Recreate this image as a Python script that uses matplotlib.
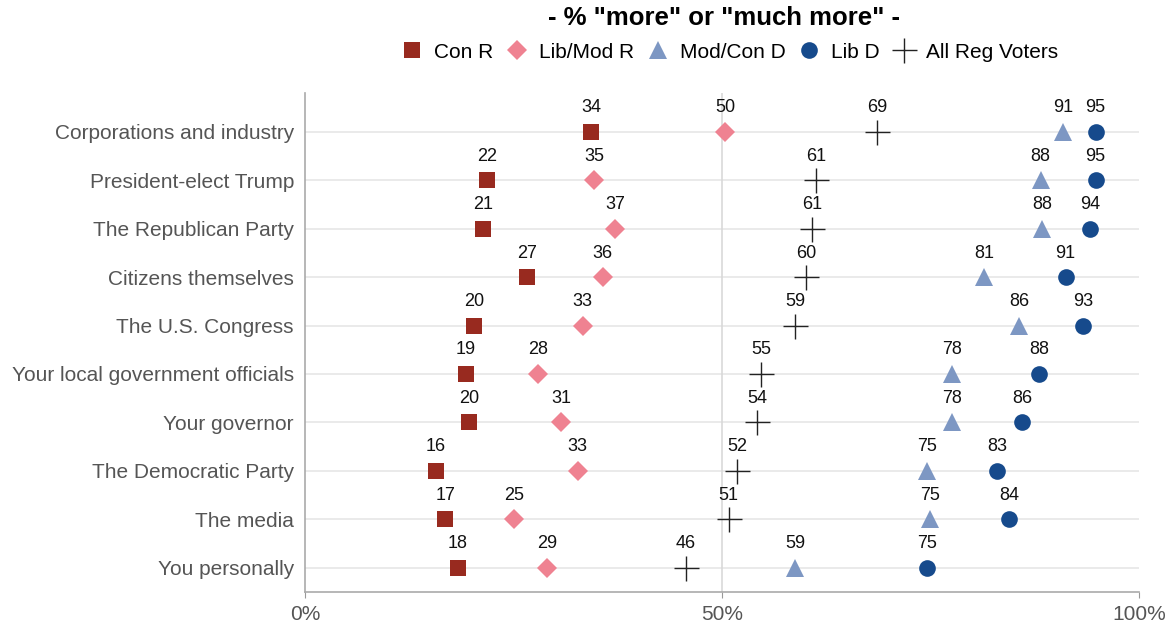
import numpy as np
import matplotlib.pyplot as plt

plt.rcParams['font.family'] = ['Liberation Sans', 'DejaVu Sans']

categories = ["Corporations and industry", "President-elect Trump", "The Republican Party",
              "Citizens themselves", "The U.S. Congress", "Your local government officials",
              "Your governor", "The Democratic Party", "The media", "You personally"]

con_r = [34.3, 21.8, 21.3, 26.6, 20.3, 19.3, 19.7, 15.7, 16.8, 18.3]
libmod_r = [50.4, 34.7, 37.2, 35.7, 33.3, 27.9, 30.7, 32.7, 25.1, 29.0]
modcon_d = [90.9, 88.2, 88.4, 81.4, 85.6, 77.6, 77.6, 74.6, 74.9, 58.8]
lib_d = [94.8, 94.8, 94.1, 91.2, 93.3, 88.0, 86.0, 83.0, 84.4, 74.6]
all_reg = [68.6, 61.3, 60.8, 60.1, 58.8, 54.7, 54.2, 51.8, 50.8, 45.7]

series = [
    ("Con R", con_r, "s", "#982a1f", 11),
    ("Lib/Mod R", libmod_r, "D", "#ef8291", 10),
    ("Mod/Con D", modcon_d, "^", "#7d97c3", 13),
    ("Lib D", lib_d, "o", "#164a8c", 12),
    ("All Reg Voters", all_reg, "+", "#222222", 18),
]

fig = plt.figure(figsize=(11.71, 6.27), dpi=100)
ax = fig.add_axes([305 / 1171, 1 - 592 / 627, (1139 - 305) / 1171, (592 - 93) / 627])

y = np.arange(len(categories))[::-1]

for yy in y:
    ax.axhline(yy, color="#e6e6e6", lw=1.2, zorder=0)
ax.axvline(50, color="#d9d9d9", lw=1.2, zorder=0)

for name, vals, mk, col, ms in series:
    if mk == "+":
        ax.plot(vals, y, ls="none", marker=mk, color=col, ms=ms, mew=1.0, label=name, zorder=3)
    else:
        ax.plot(vals, y, ls="none", marker=mk, color=col, ms=ms, mew=0, label=name, zorder=3)
    for v, yy in zip(vals, y):
        ax.text(v, yy + 0.32, f"{v:.0f}", ha="center", va="bottom", fontsize=13, color="#111111")

ax.set_xlim(0, 100)
ax.set_ylim(-0.5, 9.8)
ax.set_yticks(y)
ax.set_yticklabels(categories, fontsize=15, color="#555555")
ax.set_xticks([0, 50, 100])
ax.set_xticklabels(["0%", "50%", "100%"], fontsize=15, color="#555555")
ax.tick_params(axis="y", length=0, pad=8)
ax.tick_params(axis="x", length=4, color="#999999", pad=5)
for s in ["top", "right"]:
    ax.spines[s].set_visible(False)
for s in ["left", "bottom"]:
    ax.spines[s].set_color("#aaaaaa")
    ax.spines[s].set_linewidth(1.2)

fig.text(724 / 1171, 1 - 18 / 627, '- % "more" or "much more" -', ha="center", va="center",
         fontsize=18.5, fontweight="bold")
fig.legend(loc="center", bbox_to_anchor=(727 / 1171, 1 - 52 / 627), ncol=5, frameon=False,
           fontsize=15, handletextpad=0.3, columnspacing=0.4, markerscale=1.0,
           handlelength=1.5)

fig.savefig("out.png", dpi=100)
